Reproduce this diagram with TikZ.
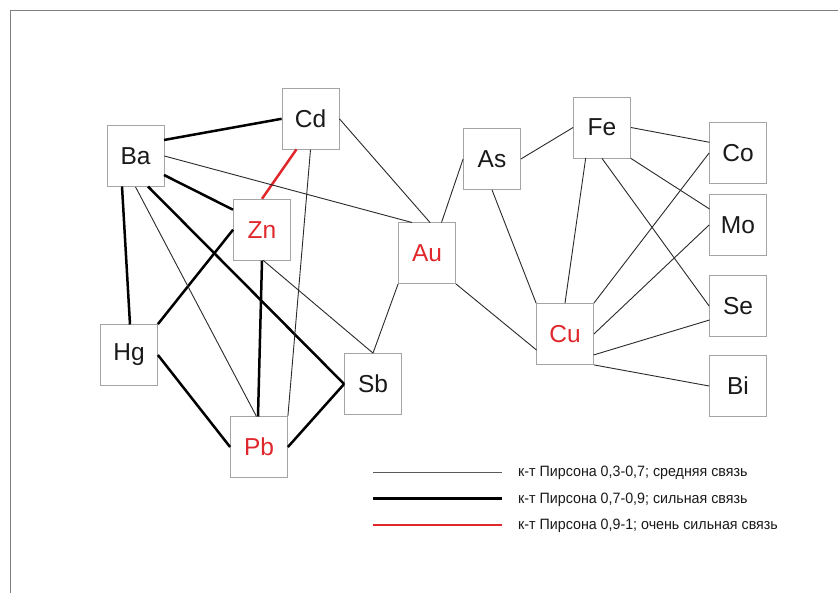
\documentclass[tikz,border=0pt]{standalone}
\usepackage{fontspec}
\setmainfont{Liberation Sans}
\definecolor{boxgray}{HTML}{A4A4A4}
\definecolor{framegray}{HTML}{808080}
\definecolor{linkred}{HTML}{E0282C}
\definecolor{thinline}{HTML}{2A2A2A}
\definecolor{inkblack}{HTML}{1A1A1A}
\begin{document}
\begin{tikzpicture}[x=1pt,y=-1pt,
  elem/.style={draw=boxgray,line width=0.8pt,fill=white,minimum width=57pt,minimum height=61pt,
    inner sep=0pt,font=\fontsize{24.5}{27}\selectfont,text=inkblack},
  hot/.style={elem,text=linkred},
  mid/.style={draw=thinline,line width=0.9pt},
  strong/.style={draw=black,line width=2.5pt},
  vstrong/.style={draw=linkred,line width=2.5pt},
  legtext/.style={anchor=base west,inner sep=0pt,text=inkblack,
    font=\fontsize{15}{17}\selectfont,xscale=0.95}]
\useasboundingbox (0,0) rectangle (838,593);
\fill[white] (0,0) rectangle (838,593);
% outer frame (left and top edges)
\draw[framegray,line width=1.1pt] (10.5,593) -- (10.5,10.5) -- (838,10.5);

% element boxes
\node[elem] (Ba) at (135.5,156) {Ba};
\node[elem] (Cd) at (310.5,118.8) {Cd};
\node[hot]  (Zn) at (262,229.7) {Zn};
\node[elem] (Hg) at (129,355) {Hg};
\node[hot]  (Pb) at (259,447) {Pb};
\node[elem] (Sb) at (373,384) {Sb};
\node[hot]  (Au) at (427,253) {Au};
\node[elem] (As) at (492,159) {As};
\node[elem] (Fe) at (602,127.5) {Fe};
\node[elem] (Co) at (738,153) {Co};
\node[elem] (Mo) at (738,225) {Mo};
\node[elem] (Se) at (738,306) {Se};
\node[elem] (Bi) at (738,386) {Bi};
\node[hot]  (Cu) at (565,334) {Cu};

% strong links (0.7-0.9)
\draw[strong] ([shift={(28.5,-16)}]Ba.center) -- (Cd.west);
\draw[strong] ([shift={(28.5,19)}]Ba.center) -- ([shift={(-29,-20)}]Zn.center);
\draw[strong] ([shift={(12.5,30.5)}]Ba.center) -- (Sb.west);
\draw[strong] ([shift={(-13.5,30.5)}]Ba.center) -- ([shift={(1,-30.5)}]Hg.center);
\draw[strong] (Zn.west) -- (Hg.north east);
\draw[strong] (Zn.south) -- ([shift={(-1,-30.5)}]Pb.center);
\draw[strong] (Hg.east) -- (Pb.west);
\draw[strong] (Sb.west) -- (Pb.east);

% very strong link (0.9-1)
\draw[vstrong] ([shift={(-14,30.5)}]Cd.center) -- (Zn.north);

% moderate links (0.3-0.7)
\draw[mid] (Ba.east) -- ([shift={(-15,-30.5)}]Au.center);
\draw[mid] (Ba.south) -- ([shift={(-2.5,-30.5)}]Pb.center);
\draw[mid] (Cd.south) -- (Pb.north east);
\draw[mid] (Cd.east) -- ([shift={(3,-30.5)}]Au.center);
\draw[mid] ([shift={(1,30.5)}]Zn.center) -- (Sb.north);
\draw[mid] (Sb.north) -- (Au.south west);
\draw[mid] ([shift={(14.5,-30.5)}]Au.center) -- (As.west);
\draw[mid] (Au.south east) -- ([shift={(-28.5,16)}]Cu.center);
\draw[mid] (As.east) -- (Fe.west);
\draw[mid] (As.south) -- (Cu.north west);
\draw[mid] ([shift={(-16.3,30.5)}]Fe.center) -- (Cu.north);
\draw[mid] (Fe.east) -- ([shift={(-28.5,-10.7)}]Co.center);
\draw[mid] (Fe.south east) -- ([shift={(-28.5,-16)}]Mo.center);
\draw[mid] (Fe.south) -- (Se.west);
\draw[mid] (Cu.north east) -- (Co.west);
\draw[mid] (Cu.east) -- (Mo.west);
\draw[mid] ([shift={(28.5,21)}]Cu.center) -- ([shift={(-28.5,14)}]Se.center);
\draw[mid] (Cu.south east) -- (Bi.west);

% legend
\coordinate (l1a) at (373,472.3); \coordinate (l1b) at (502,472.3);
\coordinate (l2a) at (373,498.5); \coordinate (l2b) at (502,498.5);
\coordinate (l3a) at (373,525);   \coordinate (l3b) at (502,525);
\draw[mid,draw=framegray!70!black,line width=1.2pt] (l1a) -- (l1b);
\draw[strong,line width=2.3pt] (l2a) -- (l2b);
\draw[vstrong,line width=2.3pt] (l3a) -- (l3b);
\node[legtext] (t1) at (518,476.5) {к-т Пирсона 0,3-0,7; средняя связь};
\node[legtext] (t2) at (518,503) {к-т Пирсона 0,7-0,9; сильная связь};
\node[legtext] (t3) at (518,529.5) {к-т Пирсона 0,9-1; очень сильная связь};
\end{tikzpicture}
\end{document}
